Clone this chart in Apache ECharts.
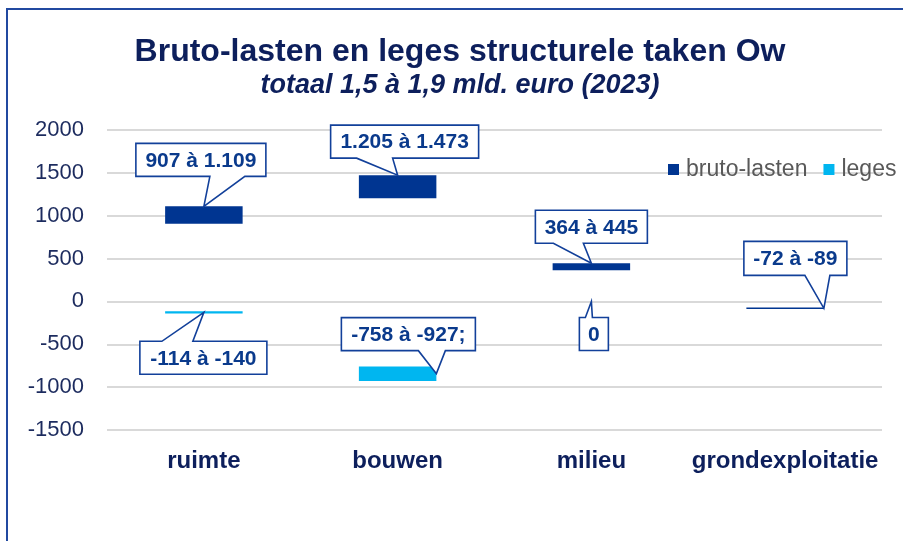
<!DOCTYPE html>
<html>
<head>
<meta charset="utf-8">
<script src="https://cdn.jsdelivr.net/npm/echarts@6/dist/echarts.min.js"></script>
<style>html,body{margin:0;padding:0;background:#fff}#c{width:903px;height:541px}</style>
</head>
<body>
<div id="c"></div>
<script>
const categories = ['ruimte', 'bouwen', 'milieu', 'grondexploitatie'];
const brutoLow  = [907, 1205, 364, -89];
const brutoHigh = [1109, 1473, 445, -72];
const legesLow  = [-140, -927, 0, null];
const legesHigh = [-114, -758, 0, null];
const brutoLabels = ['907 à 1.109', '1.205 à 1.473', '364 à 445', '-72 à -89'];
const legesLabels = ['-114 à -140', '-758 à -927;', '0', null];
const yMin = -1500, yMax = 2000, yStep = 500;
const titleText = 'Bruto-lasten en leges structurele taken Ow';
const subtitleText = 'totaal 1,5 à 1,9 mld. euro (2023)';

const DARK = '#003591', LIGHT = '#00B6F0', NAVY = '#0D1F5C', LINE = '#12409A';
const FONT = '"Liberation Sans", Arial, sans-serif';

// callout layout (pixel offsets of box relative to pointer tip)
const calloutLayout = [
  {s: 'b', i: 0, at: 'high', tip: 0,   box: [-68, -63, 130, 33], side: 'bottom', base: [74, 109]},
  {s: 'b', i: 1, at: 'high', tip: 0,   box: [-67, -50, 148, 33], side: 'bottom', base: [26, 62]},
  {s: 'b', i: 2, at: 'high', tip: 0,   box: [-56, -53, 112, 33], side: 'bottom', base: [18, 48]},
  {s: 'b', i: 3, at: 'mid',  tip: 0.5, box: [-80, -67, 103, 34], side: 'bottom', base: [61, 86]},
  {s: 'l', i: 0, at: 'mid',  tip: 0,   box: [-64, 29, 127, 33],  side: 'top',    base: [22, 53]},
  {s: 'l', i: 1, at: 'mid',  tip: 0.5, box: [-95, -56, 134, 33], side: 'bottom', base: [77, 104]},
  {s: 'l', i: 2, at: 'mid',  tip: 0,   box: [-12, 16, 29, 33],   side: 'top',    base: [6, 13]}
];

const BAR_FRAC = 0.4;

function barRender(params, api) {
  const lo = api.value(1), hi = api.value(2);
  if (isNaN(lo) || isNaN(hi)) return null;
  const i = api.value(0);
  const top = api.coord([i, hi]);
  const bot = api.coord([i, lo]);
  const bw = api.size([1, 0])[0] * BAR_FRAC;
  return {
    type: 'rect',
    shape: {x: top[0] - bw / 2, y: top[1], width: bw, height: Math.max(bot[1] - top[1], 0)},
    style: api.style()
  };
}

const calloutData = calloutLayout.map((c, k) => {
  const lo = c.s === 'b' ? brutoLow[c.i] : legesLow[c.i];
  const hi = c.s === 'b' ? brutoHigh[c.i] : legesHigh[c.i];
  const v = c.at === 'high' ? hi : (lo + hi) / 2;
  return [c.i, v, k];
});

function calloutRender(params, api) {
  const k = api.value(2);
  const c = calloutLayout[k];
  const text = c.s === 'b' ? brutoLabels[c.i] : legesLabels[c.i];
  const p = api.coord([api.value(0), api.value(1)]);
  const bw = api.size([1, 0])[0] * BAR_FRAC;
  const tx = p[0] + c.tip * bw, ty = p[1];
  const x0 = tx + c.box[0], y0 = ty + c.box[1], x1 = x0 + c.box[2], y1 = y0 + c.box[3];
  let pts;
  if (c.side === 'bottom') {
    pts = [[x0, y0], [x1, y0], [x1, y1], [x0 + c.base[1], y1], [tx, ty], [x0 + c.base[0], y1], [x0, y1]];
  } else {
    pts = [[x0, y0], [x0 + c.base[0], y0], [tx, ty], [x0 + c.base[1], y0], [x1, y0], [x1, y1], [x0, y1]];
  }
  return {
    type: 'group',
    children: [
      {type: 'polygon', shape: {points: pts}, style: {fill: '#fff', stroke: LINE, lineWidth: 1.6}},
      {type: 'text', style: {text: text, x: (x0 + x1) / 2, y: (y0 + y1) / 2 + 1, textAlign: 'center', textVerticalAlign: 'middle',
        font: 'bold 21px ' + FONT, fill: '#0A3A8C'}}
    ]
  };
}

const chart = echarts.init(document.getElementById('c'), null, {renderer: 'canvas'});
chart.setOption({
  animation: false,
  backgroundColor: '#fff',
  title: [
    {text: titleText, left: 455, top: 31, textAlign: 'center',
     textStyle: {fontFamily: FONT, fontSize: 32, fontWeight: 'bold', color: NAVY}},
    {text: subtitleText, left: 455, top: 67, textAlign: 'center',
     textStyle: {fontFamily: FONT, fontSize: 27, fontWeight: 'bold', fontStyle: 'italic', color: NAVY}}
  ],
  legend: {
    data: ['bruto-lasten', 'leges'],
    left: 663, top: 153,
    icon: 'rect', itemWidth: 11, itemHeight: 11, itemGap: 16,
    textStyle: {fontFamily: FONT, fontSize: 23, color: '#595959', padding: [0, 0, 0, 2]}
  },
  graphic: [
    {type: 'rect', shape: {x: 7, y: 9, width: 1200, height: 1200}, style: {fill: 'none', stroke: '#2149A0', lineWidth: 2}, silent: true, z: 100}
  ],
  grid: {left: 107, right: 21, top: 130, bottom: 111, containLabel: false},
  xAxis: {
    type: 'category', data: categories,
    axisLine: {show: false}, axisTick: {show: false},
    axisLabel: {interval: 0, fontFamily: FONT, fontSize: 24, fontWeight: 'bold', color: NAVY, margin: 19}
  },
  yAxis: {
    type: 'value', min: yMin, max: yMax, interval: yStep,
    axisLine: {show: false}, axisTick: {show: false},
    axisLabel: {fontFamily: FONT, fontSize: 22, color: '#1C2B5E', margin: 23, formatter: v => String(v)},
    splitLine: {lineStyle: {color: '#D9D9D9', width: 2}}
  },
  series: [
    {type: 'custom', name: 'bruto-lasten', renderItem: barRender, itemStyle: {color: DARK},
     encode: {x: 0, y: [1, 2]}, data: categories.map((c, i) => [i, brutoLow[i], brutoHigh[i]])},
    {type: 'custom', name: 'leges', renderItem: barRender, itemStyle: {color: LIGHT},
     encode: {x: 0, y: [1, 2]}, data: categories.map((c, i) => [i, legesLow[i] == null ? NaN : legesLow[i], legesHigh[i] == null ? NaN : legesHigh[i]])},
    {type: 'custom', name: 'callouts', renderItem: calloutRender, z: 10,
     encode: {x: 0, y: 1}, data: calloutData}
  ]
});
</script>
</body>
</html>
